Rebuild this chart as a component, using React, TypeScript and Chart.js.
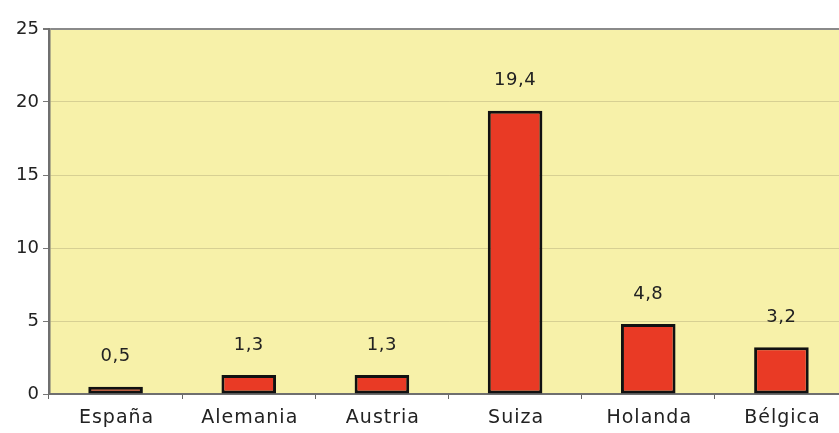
import React, { useEffect, useRef } from "react";
import { Chart, registerables } from "chart.js";

Chart.register(...registerables);

const categories = ["España", "Alemania", "Austria", "Suiza", "Holanda", "Bélgica"];
const values = [0.5, 1.3, 1.3, 19.4, 4.8, 3.2];
const valueLabels = ["0,5", "1,3", "1,3", "19,4", "4,8", "3,2"];
const yTicks = [0, 5, 10, 15, 20, 25];

const FONT = "'DejaVu Sans', sans-serif";

const bgPlugin = {
  id: "bgPlugin",
  beforeDraw(chart: any) {
    const { ctx, chartArea } = chart;
    ctx.save();
    ctx.fillStyle = "#F7F1A9";
    ctx.fillRect(chartArea.left, chartArea.top, chartArea.right - chartArea.left, chartArea.bottom - chartArea.top);
    ctx.restore();
  },
};

const labelPlugin = {
  id: "labelPlugin",
  afterDraw(chart: any) {
    const { ctx } = chart;
    const meta = chart.getDatasetMeta(0);
    const xScale = chart.scales.x;
    ctx.save();
    ctx.fillStyle = "#222";
    ctx.textAlign = "center";
    ctx.textBaseline = "middle";
    ctx.font = `18px ${FONT}`;
    (ctx as any).letterSpacing = "0.5px";
    meta.data.forEach((bar: any, i: number) => {
      ctx.fillText(valueLabels[i], bar.x, bar.y - 30);
    });
    ctx.font = `19px ${FONT}`;
    (ctx as any).letterSpacing = "1px";
    categories.forEach((c, i) => {
      ctx.fillText(c, xScale.getPixelForValue(i) + 1, chart.chartArea.bottom + 24);
    });
    (ctx as any).letterSpacing = "0px";
    ctx.restore();
  },
};

export default function App() {
  const ref = useRef<HTMLCanvasElement>(null);
  useEffect(() => {
    if (!ref.current) return;
    const chart = new Chart(ref.current, {
      type: "bar",
      data: {
        labels: categories,
        datasets: [
          {
            data: values,
            backgroundColor: "#E93A25",
            borderColor: "#111",
            borderWidth: 3,
            borderSkipped: false,
            categoryPercentage: 1,
            barPercentage: 0.41,
          },
        ],
      },
      options: {
        animation: false,
        responsive: false,
        maintainAspectRatio: false,
        layout: { padding: { top: 29, right: 0, left: 0, bottom: 0 } },
        plugins: { legend: { display: false }, tooltip: { enabled: false } },
        scales: {
          x: {
            offset: true,
            grid: {
              offset: true,
              drawOnChartArea: false,
              drawTicks: true,
              tickLength: 5,
              color: "#666",
            },
            border: { display: true, color: "#6f6f6f", width: 2 },
            ticks: {
              display: false,
            },
            afterFit(scale: any) {
              scale.height = 39;
            },
          },
          y: {
            min: 0,
            max: 25,
            afterBuildTicks(scale: any) {
              scale.ticks = yTicks.map((v) => ({ value: v }));
            },
            grid: {
              color: (c: any) => (c.tick && c.tick.value === 25 ? "#8a8a8a" : "rgba(190,180,130,0.55)"),
              lineWidth: (c: any) => (c.tick && c.tick.value === 25 ? 2 : 1),
              tickColor: "#777",
              tickLength: 6,
            },
            border: { display: true, color: "#6f6f6f", width: 2.5 },
            ticks: {
              font: { family: FONT, size: 18 },
              color: "#222",
              padding: 4,
            },
            afterFit(scale: any) {
              scale.width = 49;
            },
          },
        },
      },
      plugins: [bgPlugin, labelPlugin],
    });
    return () => chart.destroy();
  }, []);
  return (
    <div style={{ position: "fixed", left: 0, top: 0, width: 839, height: 433, overflow: "hidden", background: "#fff" }}>
      <canvas ref={ref} width={848} height={433} style={{ display: "block" }} />
    </div>
  );
}
